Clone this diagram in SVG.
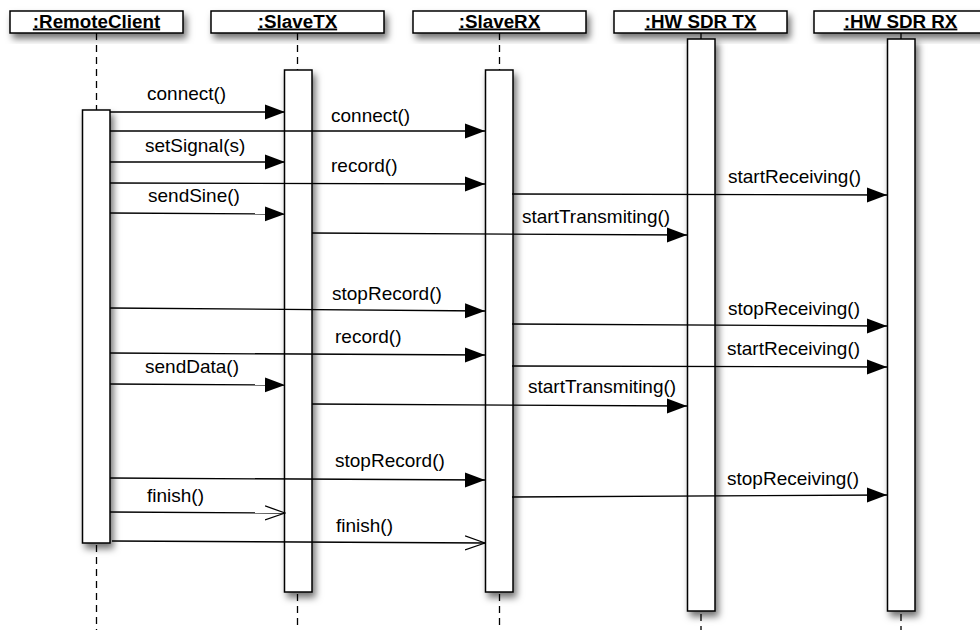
<svg xmlns="http://www.w3.org/2000/svg" width="980" height="630" viewBox="0 0 980 630">
<defs>
<filter id="sh" x="-50%" y="-50%" width="200%" height="200%">
<feDropShadow dx="3" dy="5" stdDeviation="3.5" flood-color="#000" flood-opacity="0.55"/>
</filter>
<marker id="fill" markerUnits="userSpaceOnUse" markerWidth="20" markerHeight="16" refX="20" refY="8" orient="auto">
<path d="M0,0.5 L20,8 L0,15.5 z" fill="#000"/>
</marker>
<marker id="open" markerUnits="userSpaceOnUse" markerWidth="21" markerHeight="16" refX="20" refY="8" orient="auto">
<path d="M0,1 L20,8 L0,15" fill="none" stroke="#000" stroke-width="1.3"/>
</marker>
</defs>
<style>
.hdr{fill:#fff;stroke:#000;stroke-width:1.5;filter:url(#sh)}
.bar{fill:#fff;stroke:#000;stroke-width:1.5;filter:url(#sh)}
.ll{stroke:#000;stroke-width:1.3;stroke-dasharray:7 5;fill:none}
.ht{font-family:"Liberation Sans",Arial,sans-serif;font-weight:bold;font-size:18.8px;text-anchor:middle;text-decoration:underline;fill:#000}
.msg{stroke:#000;stroke-width:1.3;fill:none}
.f{marker-end:url(#fill)}
.o{marker-end:url(#open)}
.lb{font-family:"Liberation Sans",Arial,sans-serif;font-size:19px;fill:#000}
</style>
<rect width="980" height="630" fill="#fff"/>
<g id="remoteclient">
<line class="ll" x1="96.5" y1="33" x2="96.5" y2="110"/>
<line class="ll" x1="96.5" y1="545" x2="96.5" y2="630"/>
<rect class="hdr" x="10" y="11" width="173" height="22"/>
<text class="ht" x="96.5" y="27.5">:RemoteClient</text>
<rect class="bar" x="82.5" y="110" width="27.5" height="433"/>
</g>
<g id="slavetx">
<line class="ll" x1="297.5" y1="33" x2="297.5" y2="70"/>
<line class="ll" x1="297.5" y1="594" x2="297.5" y2="630"/>
<rect class="hdr" x="211" y="11" width="173" height="22"/>
<text class="ht" x="297.5" y="27.5">:SlaveTX</text>
<rect class="bar" x="284.5" y="70" width="27.5" height="522"/>
</g>
<g id="slaverx">
<line class="ll" x1="499.5" y1="33" x2="499.5" y2="70"/>
<line class="ll" x1="499.5" y1="594" x2="499.5" y2="630"/>
<rect class="hdr" x="413" y="11" width="173" height="22"/>
<text class="ht" x="499.5" y="27.5">:SlaveRX</text>
<rect class="bar" x="485.5" y="70" width="27.5" height="522"/>
</g>
<g id="hwsdrtx">
<line x1="701" y1="33" x2="701" y2="39" stroke="#000" stroke-width="1.3"/>
<line class="ll" x1="701" y1="614" x2="701" y2="630"/>
<rect class="hdr" x="614" y="11" width="173" height="22"/>
<text class="ht" x="700.5" y="27.5">:HW SDR TX</text>
<rect class="bar" x="687.5" y="39" width="27.5" height="572"/>
</g>
<g id="hwsdrrx">
<line x1="901" y1="33" x2="901" y2="39" stroke="#000" stroke-width="1.3"/>
<line class="ll" x1="901" y1="614" x2="901" y2="630"/>
<rect class="hdr" x="814" y="11" width="175" height="22"/>
<text class="ht" x="900.5" y="27.5">:HW SDR RX</text>
<rect class="bar" x="887.5" y="39" width="27.5" height="572"/>
</g>
<g id="connectors">
<line class="msg f" x1="110" y1="112" x2="285" y2="112"/>
<text class="lb" x="147" y="100">connect()</text>
<line class="msg f" x1="110" y1="131" x2="485" y2="131"/>
<text class="lb" x="331" y="122">connect()</text>
<line class="msg f" x1="110" y1="162" x2="285" y2="162"/>
<text class="lb" x="145" y="152">setSignal(s)</text>
<line class="msg f" x1="110" y1="183" x2="485" y2="184"/>
<text class="lb" x="331" y="172">record()</text>
<line class="msg f" x1="110" y1="213" x2="285" y2="214"/>
<text class="lb" x="148" y="202">sendSine()</text>
<line class="msg f" x1="512" y1="194" x2="887" y2="195"/>
<text class="lb" x="728" y="183">startReceiving()</text>
<line class="msg f" x1="312" y1="233" x2="687" y2="235"/>
<text class="lb" x="522" y="223">startTransmiting()</text>
<line class="msg f" x1="110" y1="308" x2="485" y2="311"/>
<text class="lb" x="332" y="300">stopRecord()</text>
<line class="msg f" x1="512" y1="324" x2="887" y2="326"/>
<text class="lb" x="728" y="315">stopReceiving()</text>
<line class="msg f" x1="110" y1="353" x2="485" y2="355"/>
<text class="lb" x="335" y="343">record()</text>
<line class="msg f" x1="512" y1="366" x2="887" y2="367"/>
<text class="lb" x="727" y="355">startReceiving()</text>
<line class="msg f" x1="110" y1="384" x2="285" y2="385"/>
<text class="lb" x="145" y="373">sendData()</text>
<line class="msg f" x1="312" y1="404" x2="687" y2="406"/>
<text class="lb" x="528" y="393">startTransmiting()</text>
<line class="msg f" x1="110" y1="478" x2="485" y2="480"/>
<text class="lb" x="335" y="467">stopRecord()</text>
<line class="msg f" x1="512" y1="497" x2="887" y2="495"/>
<text class="lb" x="727" y="485">stopReceiving()</text>
<line class="msg o" x1="110" y1="512" x2="285" y2="513"/>
<text class="lb" x="147" y="502">finish()</text>
<line class="msg o" x1="112" y1="541" x2="485" y2="543"/>
<text class="lb" x="336" y="532">finish()</text>
</g>
</svg>
